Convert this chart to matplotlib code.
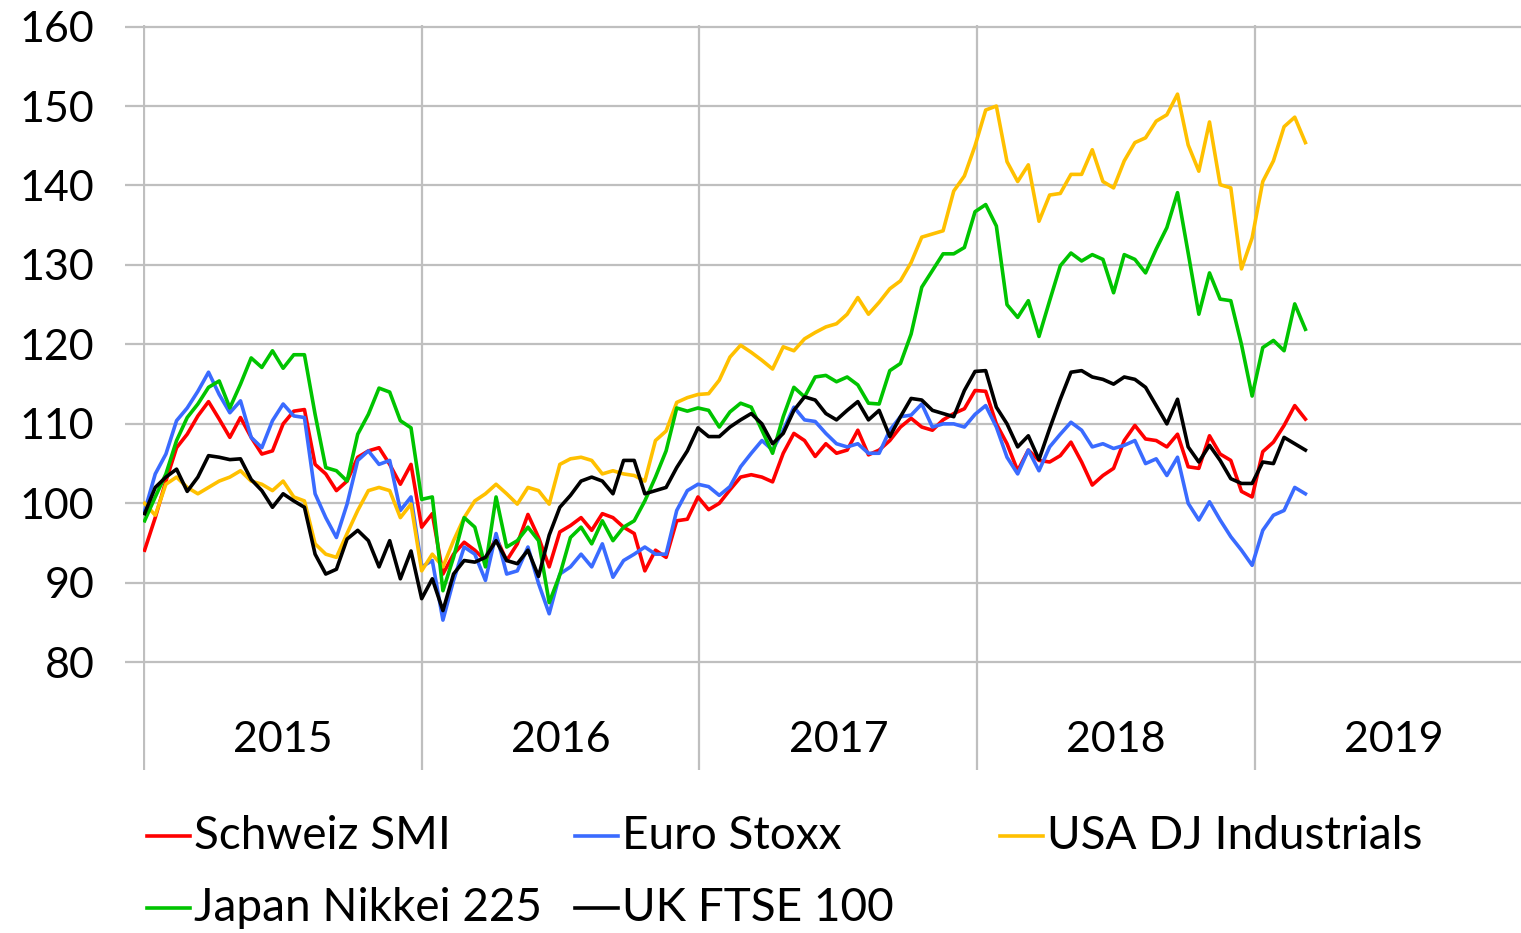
import matplotlib
matplotlib.use('Agg')
import matplotlib.pyplot as plt
from matplotlib.lines import Line2D
import numpy as np
import pandas as pd

plt.rcParams['font.family'] = ['Lato', 'DejaVu Sans']

# two-weekly closes, indexed to 100
dates = pd.date_range('2015-01-02', periods=110, freq='14D')
year_labels = [2015, 2016, 2017, 2018, 2019]
y_ticks = [80, 90, 100, 110, 120, 130, 140, 150, 160]

names = ['Schweiz SMI', 'Euro Stoxx', 'USA DJ Industrials', 'Japan Nikkei 225', 'UK FTSE 100']
colors = ['#FF0000', '#3A6BFF', '#FFC000', '#00C400', '#000000']

smi = [94.1, 98.2, 102.8, 107.0, 108.7, 111.0, 112.8, 110.6, 108.3, 110.8, 108.3, 106.2, 106.6, 110.0,
       111.6, 111.8, 104.9, 103.7, 101.6, 102.8, 105.8, 106.6, 107.0, 104.9, 102.4, 104.9, 97.0,
       98.7, 91.1, 93.6, 95.1, 94.1, 92.8, 95.7, 92.8, 94.9, 98.6, 95.7, 92.0, 96.4, 97.2, 98.2,
       96.6, 98.7, 98.2, 97.0, 96.2, 91.5, 94.1, 93.2, 97.8, 98.0, 100.8,
       99.2, 100.0, 101.7, 103.3, 103.6, 103.3, 102.7, 106.3, 108.8, 107.9, 105.9, 107.5, 106.3,
       106.7, 109.2, 106.1, 106.7, 107.9, 109.6, 110.7, 109.6, 109.2, 110.5, 111.3, 111.9, 114.2,
       114.1, 110.0, 107.5, 104.1, 106.7, 105.4, 105.2, 106.0, 107.7, 105.2, 102.3, 103.5, 104.4,
       107.9, 109.8, 108.1, 107.9, 107.1, 108.7, 104.6, 104.4, 108.5, 106.2, 105.4, 101.5, 100.8,
       106.5, 107.7, 109.8, 112.3, 110.6]

stoxx = [99.0, 103.7, 106.2, 110.4, 112.0, 114.1, 116.5, 113.7, 111.4, 112.9, 108.3, 107.0, 110.4,
         112.5, 111.0, 110.8, 101.2, 98.2, 95.7, 99.9, 105.4, 106.6, 104.9, 105.4, 99.1, 100.8, 92.0,
         92.8, 85.3, 90.3, 94.5, 93.6, 90.3, 96.2, 91.1, 91.5, 94.5, 89.9, 86.1, 91.1, 92.0, 93.6,
         92.0, 94.9, 90.7, 92.8, 93.6, 94.5, 93.6, 93.6, 99.1, 101.6, 102.4,
         102.1, 101.0, 102.1, 104.6, 106.3, 107.9, 106.7, 109.2, 112.1, 110.5, 110.3, 108.8, 107.5,
         107.1, 107.5, 106.3, 106.3, 109.2, 110.9, 111.1, 112.5, 109.6, 110.0, 110.0, 109.6, 111.2,
         112.3, 109.6, 105.8, 103.7, 106.7, 104.1, 107.1, 108.7, 110.2, 109.2, 107.1, 107.5, 106.9,
         107.3, 107.9, 105.0, 105.6, 103.5, 105.8, 100.0, 97.9, 100.2, 97.9, 95.8, 94.1, 92.2,
         96.6, 98.5, 99.1, 102.0, 101.2]

dow = [100.0, 98.5, 102.4, 103.3, 102.0, 101.2, 102.0, 102.8, 103.3, 104.1, 102.8, 102.4, 101.6,
       102.8, 100.8, 100.3, 94.9, 93.6, 93.2, 96.2, 99.1, 101.6, 102.0, 101.6, 98.2, 99.9, 91.5,
       93.6, 92.0, 95.3, 98.2, 100.3, 101.2, 102.4, 101.2, 99.9, 102.0, 101.6, 99.9, 104.9, 105.6,
       105.8, 105.4, 103.7, 104.1, 103.7, 103.5, 102.8, 107.9, 109.1, 112.7, 113.3, 113.7,
       113.8, 115.5, 118.4, 119.9, 119.0, 118.0, 116.9, 119.7, 119.2, 120.7, 121.5, 122.2, 122.6,
       123.8, 125.9, 123.8, 125.3, 127.0, 128.0, 130.3, 133.5, 133.9, 134.3, 139.3, 141.2, 145.0,
       149.5, 150.0, 143.0, 140.5, 142.6, 135.5, 138.8, 139.0, 141.4, 141.4, 144.5, 140.5, 139.7,
       143.1, 145.4, 146.0, 148.1, 148.9, 151.5, 145.1, 141.8, 148.0, 140.1, 139.7, 129.5, 133.4,
       140.5, 143.1, 147.4, 148.6, 145.4]

nikkei = [97.8, 100.8, 103.7, 107.9, 110.8, 112.5, 114.6, 115.4, 112.0, 115.0, 118.3, 117.1, 119.2,
          117.0, 118.7, 118.7, 111.2, 104.5, 104.1, 102.8, 108.7, 111.2, 114.5, 114.0, 110.4, 109.5,
          100.5,
          100.8, 89.0, 93.2, 98.2, 97.0, 92.0, 100.8, 94.5, 95.3, 97.0, 95.3, 87.5, 91.0, 95.7, 97.0,
          94.9, 97.8, 95.3, 97.0, 97.8, 100.3, 103.3, 106.6, 112.0, 111.6, 112.0,
          111.7, 109.6, 111.5, 112.6, 112.1, 109.2, 106.3, 110.9, 114.6, 113.4, 115.9, 116.1, 115.3,
          115.9, 114.9, 112.6, 112.5, 116.7, 117.6, 121.3, 127.2, 129.3, 131.4, 131.4, 132.2, 136.7,
          137.6, 134.9, 125.0, 123.4, 125.5, 121.0, 125.5, 129.9, 131.5, 130.5, 131.3, 130.7, 126.5,
          131.3, 130.7, 129.0, 132.0, 134.7, 139.1, 131.5, 123.8, 129.0, 125.7, 125.5, 120.0, 113.5,
          119.6, 120.5, 119.2, 125.1, 121.9]

ftse = [98.7, 102.0, 103.3, 104.3, 101.5, 103.3, 106.0, 105.8, 105.5, 105.6, 103.0, 101.6, 99.5,
        101.2, 100.3, 99.5, 93.6, 91.1, 91.7, 95.5, 96.6, 95.3, 92.0, 95.3, 90.5, 94.0, 88.0,
        90.5, 86.5, 91.1, 92.8, 92.6, 93.2, 95.3, 92.8, 92.4, 94.1, 90.8, 96.0, 99.5, 101.0, 102.8,
        103.3, 102.8, 101.2, 105.4, 105.4, 101.2, 101.6, 102.0, 104.5, 106.6, 109.5,
        108.4, 108.4, 109.6, 110.5, 111.3, 110.0, 107.5, 108.8, 111.7, 113.4, 113.0, 111.3, 110.5,
        111.7, 112.8, 110.5, 111.7, 108.4, 110.9, 113.2, 113.0, 111.7, 111.3, 110.9, 114.2, 116.6,
        116.7, 112.1, 110.0, 107.1, 108.5, 105.5, 109.4, 113.1, 116.5, 116.7, 115.9, 115.6, 115.0,
        115.9, 115.6, 114.6, 112.3, 110.0, 113.1, 107.1, 105.2, 107.3, 105.4, 103.1, 102.5, 102.5,
        105.2, 105.0, 108.3, 107.5, 106.7]

series = [smi, stoxx, dow, nikkei, ftse]

# decimal years for a category-like year axis
days_in_year = np.where(dates.is_leap_year, 366, 365)
x = dates.year + (dates.dayofyear - 1) / days_in_year

W, H = 1521, 933
fig = plt.figure(figsize=(W / 100, H / 100), dpi=100)
ax = fig.add_axes([143 / W, 1 - 770 / H, 1 - 143 / W, (770 - 25) / H])

grid_color = '#BFBFBF'
for vals, name, c in zip(series, names, colors):
    ax.plot(x, vals, color=c, linewidth=2.6, label=name)

ax.set_ylim(80 - 108 / 7.9625, 160.2)
ax.set_xlim(2014.997, 2015 + (W - 143) / 278)

ax.set_yticks(y_ticks)
ax.set_xticks(year_labels)
ax.set_xticklabels([])
ax.grid(True, color=grid_color, linewidth=1.6)
ax.set_axisbelow(True)
ax.tick_params(axis='x', length=0)
ax.tick_params(axis='y', length=13, width=1.6, color=grid_color, pad=22,
               labelsize=31, labelcolor='black')
for s in ax.spines.values():
    s.set_visible(False)

for yr in year_labels:
    ax.text(yr + 0.5, 70.2, str(yr), ha='center', va='center', fontsize=31)

# legend laid out like the original: 3 fixed-width columns, row-major
legend_cols = [147, 575, 1000]
legend_rows = [836, 908]
for i, (name, c) in enumerate(zip(names, colors)):
    col, row = i % 3, i // 3
    x0 = legend_cols[col]
    y0 = 1 - legend_rows[row] / H
    fig.add_artist(Line2D([x0 / W, (x0 + 43) / W], [y0, y0], color=c, linewidth=2.6,
                          transform=fig.transFigure))
    fig.text((x0 + 47) / W, y0, name, ha='left', va='center', fontsize=33)

fig.savefig('out.png', dpi=100, facecolor='white')
